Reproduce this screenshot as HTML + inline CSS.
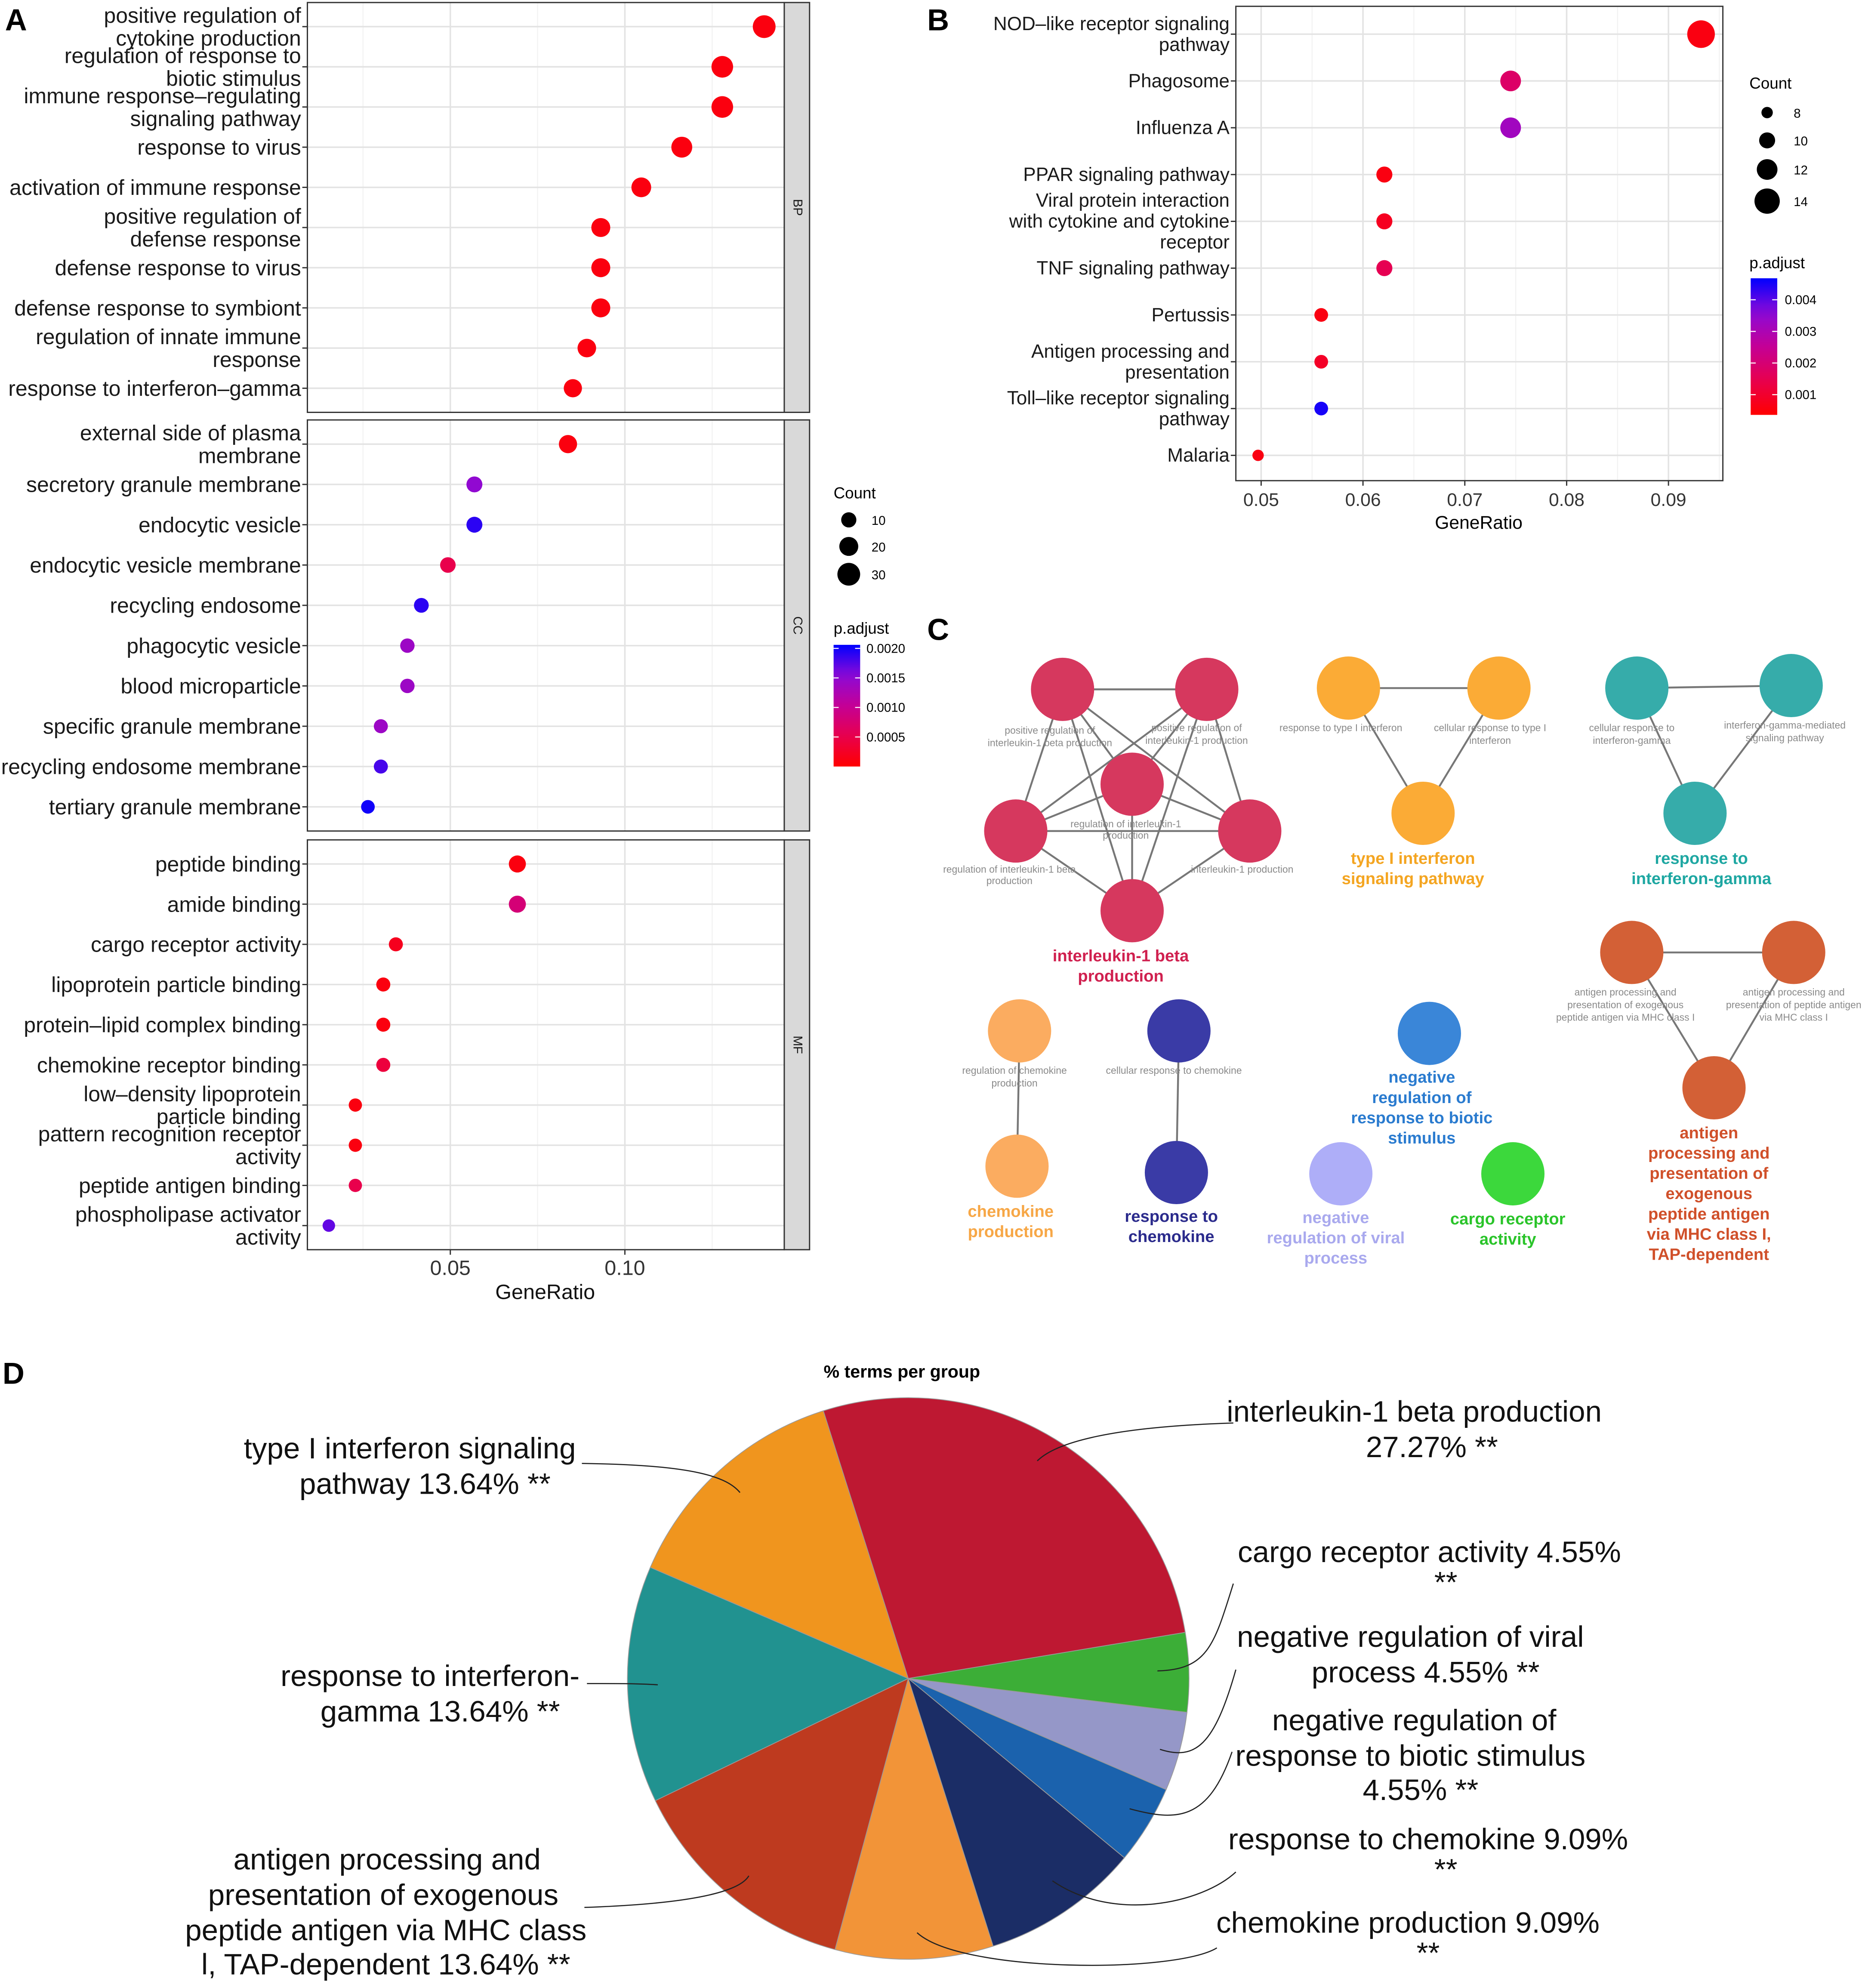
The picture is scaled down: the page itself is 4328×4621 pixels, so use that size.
<!DOCTYPE html>
<html><head><meta charset="utf-8">
<style>
html,body{margin:0;padding:0;background:#fff;}
svg{display:block;font-family:"Liberation Sans",Arial,sans-serif;}
</style></head>
<body>
<svg id="fig" xmlns="http://www.w3.org/2000/svg" width="4328" height="4621" viewBox="0 0 1472 1571.7" preserveAspectRatio="none">
<g id="panelA"></g>
<g id="panelB"></g>
<g id="panelC"></g>
<g id="panelD"></g>
</svg>
<script>
// ---------- Panel A data ----------
const bpTerms = [["positive regulation of","cytokine production"],["regulation of response to","biotic stimulus"],["immune response\u2013regulating","signaling pathway"],["response to virus"],["activation of immune response"],["positive regulation of","defense response"],["defense response to virus"],["defense response to symbiont"],["regulation of innate immune","response"],["response to interferon\u2013gamma"]];
const bpRatio = [0.1399,0.1279,0.1279,0.1163,0.1047,0.0931,0.0931,0.0931,0.0891,0.0851];
const bpCount = [30,27,27,25,22,20,20,20,19,18];
const bpPadj = [0.0001,0.0001,0.0001,0.0001,0.0001,0.0001,0.0001,0.0001,0.0001,0.0001];
const ccTerms = [["external side of plasma","membrane"],["secretory granule membrane"],["endocytic vesicle"],["endocytic vesicle membrane"],["recycling endosome"],["phagocytic vesicle"],["blood microparticle"],["specific granule membrane"],["recycling endosome membrane"],["tertiary granule membrane"]];
const ccRatio = [0.0837,0.0569,0.0569,0.0493,0.0417,0.0377,0.0377,0.0301,0.0301,0.0264];
const ccCount = [18,12,12,11,9,8,8,7,7,6];
const ccPadj = [0.0001,0.0015,0.0019,0.0005,0.0019,0.0014,0.0014,0.0014,0.0018,0.0020];
const mfTerms = [["peptide binding"],["amide binding"],["cargo receptor activity"],["lipoprotein particle binding"],["protein\u2013lipid complex binding"],["chemokine receptor binding"],["low\u2013density lipoprotein","particle binding"],["pattern recognition receptor","activity"],["peptide antigen binding"],["phospholipase activator","activity"]];
const mfRatio = [0.0692,0.0692,0.0344,0.0308,0.0308,0.0308,0.0228,0.0228,0.0228,0.0152];
const mfCount = [15,15,7,7,7,7,5,5,5,3];
const mfPadj = [0.0001,0.0008,0.0002,0.0001,0.0001,0.0004,0.0001,0.0001,0.0005,0.0017];
const aXTicks = [0.05,0.10];
const aXTickLabels = ["0.05","0.10"];
const aCountLegend = [10,20,30];
const aPadjTicks = [0.0005,0.0010,0.0015,0.0020];
const aPadjLabels = ["0.0005","0.0010","0.0015","0.0020"];
// ---------- Panel B data ----------
const bTerms = [["NOD\u2013like receptor signaling","pathway"],["Phagosome"],["Influenza A"],["PPAR signaling pathway"],["Viral protein interaction","with cytokine and cytokine","receptor"],["TNF signaling pathway"],["Pertussis"],["Antigen processing and","presentation"],["Toll\u2013like receptor signaling","pathway"],["Malaria"]];
const bRatio = [0.0932,0.0745,0.0745,0.0621,0.0621,0.0621,0.0559,0.0559,0.0559,0.0497];
const bCount = [15,12,12,10,10,10,9,9,9,8];
const bPadj = [0.0006,0.0018,0.0032,0.0006,0.0008,0.0015,0.0006,0.0009,0.0045,0.0006];
const bXTicks = [0.05,0.06,0.07,0.08,0.09];
const bXTickLabels = ["0.05","0.06","0.07","0.08","0.09"];
const bCountLegend = [8,10,12,14];
const bPadjTicks = [0.001,0.002,0.003,0.004];
const bPadjLabels = ["0.001","0.002","0.003","0.004"];
// ---------- Panel D data ----------
const pieLabels = ["interleukin-1 beta production","cargo receptor activity","negative regulation of viral process","negative regulation of response to biotic stimulus","response to chemokine","chemokine production","antigen processing and presentation of exogenous peptide antigen via MHC class I, TAP-dependent","response to interferon-gamma","type I interferon signaling pathway"];
const piePct = [27.27,4.55,4.55,4.55,9.09,9.09,13.64,13.64,13.64];
const pieColors = ["#be1832","#3cae37","#9597c8","#1b62ad","#1b2d66","#f29438","#be3a1f","#219290","#f0951e"];

const NS="http://www.w3.org/2000/svg";
function mk(tag, attrs, parent, text){
  const e=document.createElementNS(NS,tag);
  for(const k in attrs) e.setAttribute(k,attrs[k]);
  if(text!==undefined) e.textContent=text;
  parent.appendChild(e); return e;
}
const gradStops=[[255,0,0],[232,0,78],[196,0,150],[140,10,215],[0,0,255]];
function padjColor(p,lo,hi){
  let t=(p-lo)/(hi-lo); t=Math.max(0,Math.min(1,t));
  const s=t*(gradStops.length-1); const i=Math.min(Math.floor(s),gradStops.length-2); const f=s-i;
  const a=gradStops[i],b=gradStops[i+1];
  const c=a.map((v,k)=>Math.round(v+(b[k]-v)*f));
  return `rgb(${c[0]},${c[1]},${c[2]})`;
}

// ---------- Panel A ----------
(function(){
  const g=document.getElementById('panelA');
  const x0=243,x1=620;
  const xs=v=>356+(v-0.05)*2760;
  const pLo=0, pHi=0.00206;
  const rA=c=>4.5+0.15*c;
  const facets=[
    {name:"BP",terms:bpTerms,ratio:bpRatio,count:bpCount,padj:bpPadj,top:2,bot:326},
    {name:"CC",terms:ccTerms,ratio:ccRatio,count:ccCount,padj:ccPadj,top:332,bot:657},
    {name:"MF",terms:mfTerms,ratio:mfRatio,count:mfCount,padj:mfPadj,top:664,bot:988}
  ];
  const lt=mk('text',{x:4,y:24,'font-size':24,'font-weight':'bold'},g,'A');
   
  facets.forEach(f=>{
    const fg=mk('g',{},g);
    
    
    const n=f.terms.length;
    const step=(f.bot-f.top)/(n+0.2);
    const ys=i=>f.top+step*(i+0.6);
    mk('rect',{x:x0,y:f.top,width:x1-x0,height:f.bot-f.top,fill:'#fff'},fg);
    [0.025,0.075,0.125].forEach(v=>mk('line',{x1:xs(v),x2:xs(v),y1:f.top,y2:f.bot,stroke:'#f2f2f2','stroke-width':0.8},fg));
    aXTicks.forEach(v=>mk('line',{x1:xs(v),x2:xs(v),y1:f.top,y2:f.bot,stroke:'#e3e3e3','stroke-width':1.2},fg));
    for(let i=0;i<n;i++) mk('line',{x1:x0,x2:x1,y1:ys(i),y2:ys(i),stroke:'#e3e3e3','stroke-width':1.2},fg);
    mk('rect',{x:x0,y:f.top,width:x1-x0,height:f.bot-f.top,fill:'none',stroke:'#333','stroke-width':1},fg);
    mk('rect',{x:x1,y:f.top,width:20,height:f.bot-f.top,fill:'#d9d9d9',stroke:'#333','stroke-width':1},fg);
    const st=mk('text',{x:x1+10,y:(f.top+f.bot)/2,'font-size':10,fill:'#1a1a1a','text-anchor':'middle',transform:`rotate(90 ${x1+10} ${(f.top+f.bot)/2})`,'dominant-baseline':'middle'},fg,f.name);
    
    
    for(let i=0;i<n;i++){
      const y=ys(i);
      mk('line',{x1:x0-4,x2:x0,y1:y,y2:y,stroke:'#333','stroke-width':1},fg);
      const lines=f.terms[i];
      const tx=mk('text',{x:x0-5,'font-size':17,fill:'#1a1a1a','text-anchor':'end'},fg);
      
      
      lines.forEach((l,k)=>{
        const yy=y+6+(k-(lines.length-1)/2)*18;
        mk('tspan',{x:x0-5,y:yy},tx,l);
      });
      const c=mk('circle',{cx:xs(f.ratio[i]),cy:y,r:rA(f.count[i]),fill:padjColor(f.padj[i],pLo,pHi)},fg);
      
      
    }
  });
  aXTicks.forEach((v,i)=>{
    mk('line',{x1:xs(v),x2:xs(v),y1:988,y2:992,stroke:'#333'},g);
    const t=mk('text',{x:xs(v),y:1008,'font-size':16.5,fill:'#333','text-anchor':'middle'},g,aXTickLabels[i]);
    
    
  });
  const xt=mk('text',{x:431,y:1027,'font-size':16.5,fill:'#111','text-anchor':'middle'},g,'GeneRatio');
  
  
  const cl=mk('text',{x:659,y:394,'font-size':12.5},g,'Count');
  
  
  const ly=[411,432,454];
  aCountLegend.forEach((c,i)=>{
    const e=mk('circle',{cx:671,cy:ly[i],r:rA(c),fill:'#000'},g);
    
    
    mk('text',{x:689,y:ly[i]+4,'font-size':10},g,String(c));
  });
  const pl=mk('text',{x:659,y:501,'font-size':12.5},g,'p.adjust');
  
  
  const defs=mk('defs',{},g);
  const lg=mk('linearGradient',{id:'gradA',x1:0,y1:1,x2:0,y2:0},defs);
  for(let k=0;k<=10;k++) mk('stop',{offset:k/10,'stop-color':padjColor(pLo+(pHi-pLo)*k/10,pLo,pHi)},lg);
  const by=p=>606-p*46700;
  const cb=mk('rect',{x:659,y:by(pHi),width:21,height:by(0)-by(pHi),fill:'url(#gradA)'},g);
  
  
  aPadjTicks.forEach((p,i)=>{
    mk('line',{x1:659,x2:663,y1:by(p),y2:by(p),stroke:'#fff','stroke-width':0.8},g);
    mk('line',{x1:676,x2:680,y1:by(p),y2:by(p),stroke:'#fff','stroke-width':0.8},g);
    mk('text',{x:685,y:by(p)+3.5,'font-size':10},g,aPadjLabels[i]);
  });
})();

// ---------- Panel B ----------
(function(){
  const g=document.getElementById('panelB');
  const x0=977,x1=1362,top=5,bot=380;
  const xs=v=>997+(v-0.05)*8050;
  const n=bTerms.length;
  const ys=i=>27+i*37;
  const pLo=0.00036,pHi=0.00468;
  const rB=c=>4.5+(c-8)*0.917;
  const lt=mk('text',{x:733,y:24,'font-size':24,'font-weight':'bold'},g,'B');
   
  mk('rect',{x:x0,y:top,width:x1-x0,height:bot-top,fill:'#fff'},g);
  [0.055,0.065,0.075,0.085,0.095].forEach(v=>{ if(xs(v)<x1) mk('line',{x1:xs(v),x2:xs(v),y1:top,y2:bot,stroke:'#f2f2f2','stroke-width':0.8},g);});
  bXTicks.forEach(v=>mk('line',{x1:xs(v),x2:xs(v),y1:top,y2:bot,stroke:'#e3e3e3','stroke-width':1.2},g));
  for(let i=0;i<n;i++) mk('line',{x1:x0,x2:x1,y1:ys(i),y2:ys(i),stroke:'#e3e3e3','stroke-width':1.2},g);
  mk('rect',{x:x0,y:top,width:x1-x0,height:bot-top,fill:'none',stroke:'#333','stroke-width':1},g);
  for(let i=0;i<n;i++){
    const y=ys(i);
    mk('line',{x1:x0-4,x2:x0,y1:y,y2:y,stroke:'#333'},g);
    const lines=bTerms[i];
    const tx=mk('text',{'font-size':15,fill:'#1a1a1a','text-anchor':'end'},g);
    
    
    lines.forEach((l,k)=>mk('tspan',{x:x0-5,y:y+5+(k-(lines.length-1)/2)*16.5},tx,l));
    const c=mk('circle',{cx:xs(bRatio[i]),cy:y,r:rB(bCount[i]),fill:padjColor(bPadj[i],pLo,pHi)},g);
    
    
  }
  bXTicks.forEach((v,i)=>{
    mk('line',{x1:xs(v),x2:xs(v),y1:bot,y2:bot+4,stroke:'#333'},g);
    const t=mk('text',{x:xs(v),y:400,'font-size':14.5,fill:'#333','text-anchor':'middle'},g,bXTickLabels[i]);
    
    
  });
  const xt=mk('text',{x:1169,y:418,'font-size':14.5,'text-anchor':'middle'},g,'GeneRatio');
  
  
  const cl=mk('text',{x:1383,y:70,'font-size':12.5},g,'Count');
  
  
  const ly=[89,111,134,159];
  bCountLegend.forEach((c,i)=>{
    const e=mk('circle',{cx:1397,cy:ly[i],r:rB(c),fill:'#000'},g);
    
    
    mk('text',{x:1418,y:ly[i]+4,'font-size':10},g,String(c));
  });
  const pl=mk('text',{x:1383,y:212,'font-size':12.5},g,'p.adjust');
  
  
  const defs=mk('defs',{},g);
  const lg=mk('linearGradient',{id:'gradB',x1:0,y1:1,x2:0,y2:0},defs);
  for(let k=0;k<=10;k++) mk('stop',{offset:k/10,'stop-color':padjColor(pLo+(pHi-pLo)*k/10,pLo,pHi)},lg);
  const by=p=>337-p*25000;
  const cb=mk('rect',{x:1384,y:by(pHi),width:21,height:by(pLo)-by(pHi),fill:'url(#gradB)'},g);
  
  
  bPadjTicks.forEach((p,i)=>{
    mk('line',{x1:1384,x2:1388,y1:by(p),y2:by(p),stroke:'#fff','stroke-width':0.8},g);
    mk('line',{x1:1401,x2:1405,y1:by(p),y2:by(p),stroke:'#fff','stroke-width':0.8},g);
    mk('text',{x:1411,y:by(p)+3.5,'font-size':10},g,bPadjLabels[i]);
  });
})();

// ---------- Panel C ----------
(function(){
  const g=document.getElementById('panelC');
  const lt=mk('text',{x:733,y:506,'font-size':24,'font-weight':'bold'},g,'C');
   
  const nodes=[
    [840,545,'#d6385e'],[954,545,'#d6385e'],[895,620,'#d6385e'],[803,657,'#d6385e'],[988,657,'#d6385e'],[895,720,'#d6385e'],
    [1066,544,'#fbab36'],[1185,544,'#fbab36'],[1125,643,'#fbab36'],
    [1294,544,'#36acaa'],[1416,542,'#36acaa'],[1340,643,'#36acaa'],
    [1290,753,'#d36036'],[1418,753,'#d36036'],[1355,860,'#d36036'],
    [806,815,'#fbac60'],[804,922,'#fbac60'],
    [932,815,'#3a3ba6'],[930,927,'#3a3ba6'],
    [1130,817,'#3a86d8'],[1060,928,'#aeaef8'],[1196,928,'#3cd83c']
  ];
  const edges=[[0,1],[0,3],[0,4],[0,5],[0,2],[1,2],[1,3],[1,4],[1,5],[2,3],[2,4],[2,5],[3,4],[3,5],[4,5],[6,7],[6,8],[7,8],[9,10],[9,11],[10,11],[12,13],[12,14],[13,14],[15,16],[17,18]];
  edges.forEach(e=>{
    const a=nodes[e[0]],b=nodes[e[1]];
    const l=mk('line',{x1:a[0],y1:a[1],x2:b[0],y2:b[1],stroke:'#777','stroke-width':1.5},g);
    
    
  });
  nodes.forEach(nd=>{
    const c=mk('circle',{cx:nd[0],cy:nd[1],r:25,fill:nd[2]},g);
    
    
  });
  const small=[
    [830,[580,590],["positive regulation of","interleukin-1 beta production"]],
    [946,[578,588],["positive regulation of","interleukin-1 production"]],
    [890,[654,663],["regulation of interleukin-1","production"]],
    [798,[690,699],["regulation of interleukin-1 beta","production"]],
    [982,[690],["interleukin-1 production"]],
    [1060,[578],["response to type I interferon"]],
    [1178,[578,588],["cellular response to type I","interferon"]],
    [1290,[578,588],["cellular response to","interferon-gamma"]],
    [1411,[576,586],["interferon-gamma-mediated","signaling pathway"]],
    [1285,[787,797,807],["antigen processing and","presentation of exogenous","peptide antigen via MHC class I"]],
    [1418,[787,797,807],["antigen processing and","presentation of peptide antigen","via MHC class I"]],
    [802,[849,859],["regulation of chemokine","production"]],
    [928,[849],["cellular response to chemokine"]]
  ];
  small.forEach(s=>{
    const t=mk('text',{'font-size':7.8,fill:'#8a8a8a','text-anchor':'middle'},g);
    
    
    s[2].forEach((l,k)=>mk('tspan',{x:s[0],y:s[1][k]},t,l));
  });
  const big=[
    [886,760,'#d0204f',["interleukin-1 beta","production"]],
    [1117,683,'#f4a521',["type I interferon","signaling pathway"]],
    [1345,683,'#1ea7a2',["response to","interferon-gamma"]],
    [799,962,'#f7a746',["chemokine","production"]],
    [926,966,'#2b2b8c',["response to","chemokine"]],
    [1124,856,'#2a7bcf',["negative","regulation of","response to biotic","stimulus"]],
    [1056,967,'#a9a9ee',["negative","regulation of viral","process"]],
    [1192,968,'#2ac42a',["cargo receptor","activity"]],
    [1351,900,'#d0502a',["antigen","processing and","presentation of","exogenous","peptide antigen","via MHC class I,","TAP-dependent"]]
  ];
  big.forEach(b=>{
    const t=mk('text',{'font-size':13,'font-weight':'bold',fill:b[2],'text-anchor':'middle'},g);
    
    
    b[3].forEach((l,k)=>mk('tspan',{x:b[0],y:b[1]+k*16},t,l));
  });
})();

// ---------- Panel D ----------
(function(){
  const g=document.getElementById('panelD');
  const lt=mk('text',{x:2,y:1094,'font-size':24,'font-weight':'bold'},g,'D');
   
  const tt=mk('text',{x:713,y:1089,'font-size':14,'font-weight':'bold','text-anchor':'middle'},g,'% terms per group');
  
  
  const cx=718,cy=1327,R=222;
  const total=piePct.reduce((a,b)=>a+b,0);
  let ang=-17.6*Math.PI/180;
  const pt=a=>[cx+R*Math.sin(a),cy-R*Math.cos(a)];
  piePct.forEach((p,i)=>{
    const a2=ang+p/total*2*Math.PI;
    const s=pt(ang),e=pt(a2);
    const large=(a2-ang)>Math.PI?1:0;
    const path=mk('path',{d:`M${cx},${cy} L${s[0]},${s[1]} A${R},${R} 0 ${large} 1 ${e[0]},${e[1]} Z`,fill:pieColors[i],stroke:'#9a9a9a','stroke-width':0.6},g);
    
    
    ang=a2;
  });
  const leaders=[
    "M975,1125 C880,1128 835,1140 820,1155",
    "M975,1252 C960,1300 955,1320 915,1321",
    "M977,1320 C960,1380 945,1392 917,1383",
    "M974,1385 C955,1440 930,1440 893,1430",
    "M977,1480 C950,1505 880,1520 832,1487",
    "M962,1540 C930,1560 760,1560 725,1528",
    "M460,1157 C550,1158 575,1168 585,1180",
    "M464,1331 C490,1331 505,1331 520,1332",
    "M462,1508 C550,1505 585,1495 592,1483"
  ];
  leaders.forEach(d=>{
    const p=mk('path',{d:d,fill:'none',stroke:'#222','stroke-width':0.9},g);
    
    
  });
  const labs=[
    [[1118,1124,"interleukin-1 beta production"],[1132,1152,"27.27% **"]],
    [[1130,1235,"cargo receptor activity 4.55%"],[1143,1259,"**"]],
    [[1115,1302,"negative regulation of viral"],[1127,1330,"process 4.55% **"]],
    [[1118,1368,"negative regulation of"],[1115,1396,"response to biotic stimulus"],[1123,1423,"4.55% **"]],
    [[1129,1462,"response to chemokine 9.09%"],[1143,1486,"**"]],
    [[1113,1528,"chemokine production 9.09%"],[1129,1552,"**"]],
    [[324,1153,"type I interferon signaling"],[336,1181,"pathway 13.64% **"]],
    [[340,1333,"response to interferon-"],[348,1361,"gamma 13.64% **"]],
    [[306,1478,"antigen processing and"],[303,1506,"presentation of exogenous"],[305,1534,"peptide antigen via MHC class"],[305,1561,"l, TAP-dependent 13.64% **"]]
  ];
  labs.forEach(L=>{
    const t=mk('text',{'font-size':23.5,fill:'#111','text-anchor':'middle'},g);
    
    
    L.forEach(l=>mk('tspan',{x:l[0],y:l[1]},t,l[2]));
  });
})();
</script>
</body></html>
